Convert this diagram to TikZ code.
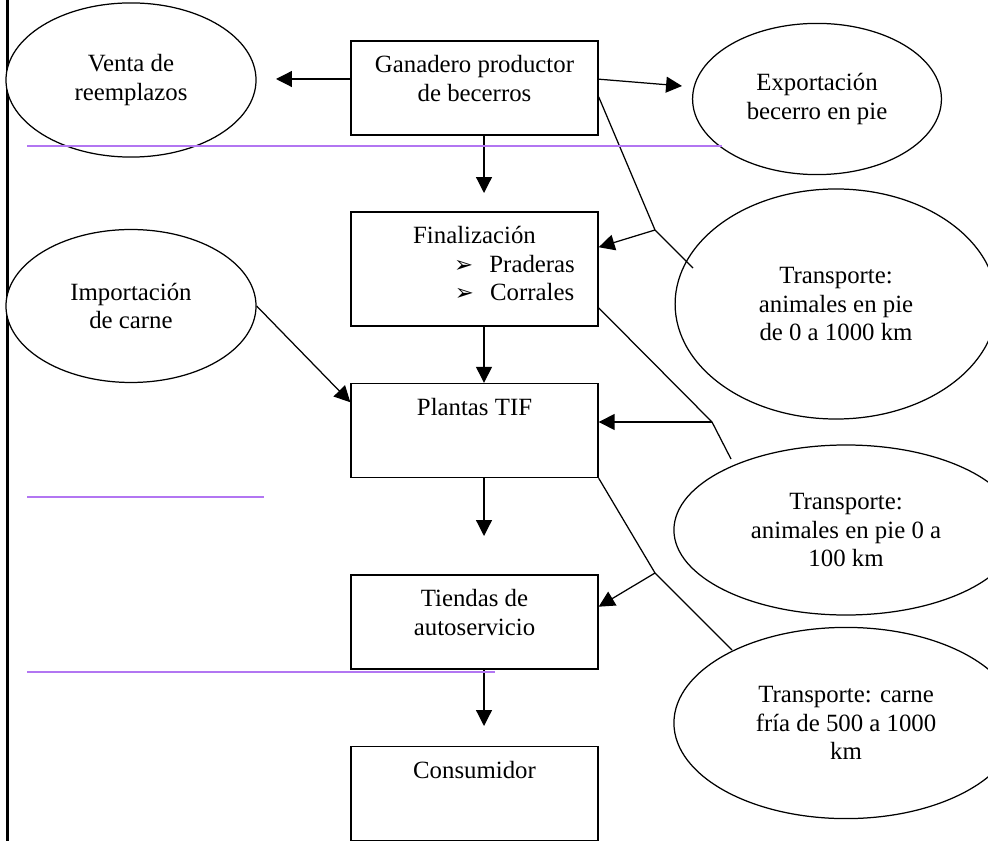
\documentclass[tikz,border=0pt]{standalone}
\usepackage{fontspec}
\setmainfont{Liberation Serif}
\newfontfamily\dejavu{DejaVu Sans}
\usetikzlibrary{shapes.geometric, arrows.meta}
\definecolor{lila}{RGB}{178,118,242}
\newcommand{\cajatxt}[2][1.6cm]{\parbox[c][#1][t]{4.2cm}{\centering\rule{0pt}{0.54cm}#2}}
\newcommand{\vineta}[1]{\hspace*{1.36cm}\makebox[0.6cm][l]{{\dejavu\fontsize{11}{11}\selectfont ➢}}#1\hfill}

\begin{document}
\begin{tikzpicture}[x=0.017cm, y=-0.017cm, line width=0.6pt,
	font=\fontsize{12}{13.8}\selectfont,
	caja/.style={draw, rectangle, inner sep=0pt},
	elipse/.style={draw, ellipse, fill=white, align=center, inner sep=0pt},
	flecha/.style={-{Triangle[length=7.7pt, width=7.7pt]}},
	purpura/.style={draw=lila, line width=0.8pt}]
	\useasboundingbox (0,0) rectangle (988,841);
	%left margin
	\draw[line width=1pt] (7.5,0) -- (7.5,841);
	
	%boxes of the chain
	\node (gan) at (474.5, 88) [caja]{\cajatxt{Ganadero productor\\de becerros}};
	\node (fin) at (474.5, 269) [caja]{\cajatxt[1.94cm]{Finalización\\\vineta{Praderas}\\\vineta{Corrales}}};
	\node (tif) at (474.5, 430.5) [caja]{\cajatxt{Plantas TIF}};
	\node (tie) at (474.5, 622) [caja]{\cajatxt{Tiendas de\\autoservicio}};
	\node (con) at (474.5, 793.5) [caja]{\cajatxt{Consumidor}};
	
	%ellipses
	\node (venta) at (131, 80) [elipse, minimum width=4.25cm, minimum height=2.62cm]{Venta de\\reemplazos};
	\node (imp) at (131, 306) [elipse, minimum width=4.25cm, minimum height=2.6cm]{Importación\\de carne};
	\node (expo) at (817, 99) [elipse, minimum width=4.23cm, minimum height=2.57cm]{Exportación\\becerro en pie};
	\node (tr1) at (836, 304) [elipse, minimum width=5.47cm, minimum height=3.91cm]{Transporte:\\animales en pie\\de 0 a 1000 km};
	\node (tr2) at (846, 530) [elipse, minimum width=5.85cm, minimum height=2.89cm]{Transporte:\\animales en pie 0 a\\100 km};
	\node (tr3) at (846, 723) [elipse, minimum width=5.85cm, minimum height=3.25cm]{Transporte: carne\\fría de 500 a 1000\\km};
	
	%free ends and kinks
	\coordinate (pv) at (276, 79);
	\coordinate (pe) at (682, 86);
	\coordinate (p1) at (484, 193);
	\coordinate (p3) at (484, 536);
	\coordinate (p4) at (484, 726);
	\coordinate (k1) at (655, 230);
	\coordinate (e1) at (693, 268);
	\coordinate (k2) at (712, 422);
	\coordinate (e2) at (731, 459);
	\coordinate (k3) at (655, 573);
	\coordinate (e3) at (732, 650);
	
	%arrows
	\draw[flecha] (gan.west |- pv) -- (pv);
	\draw[flecha] ([yshift=0.15cm]gan.east) -- (pe);
	\draw[flecha] (gan.south -| p1) -- (p1);
	\draw[flecha] (fin.south -| p1) -- (tif.north -| p1);
	\draw[flecha] (tif.south -| p3) -- (p3);
	\draw[flecha] (tie.south -| p4) -- (p4);
	\draw[flecha] (imp.east) -- ([yshift=0.48cm]tif.west);
	
	%transport lines
	\draw ([yshift=-0.15cm]gan.east) -- (k1) -- (e1);
	\draw[flecha] (k1) -- ([yshift=0.37cm]fin.east);
	\draw ([yshift=-0.66cm]fin.east) -- (k2) -- (e2);
	\draw[flecha] (k2) -- (tif.east |- k2);
	\draw (tif.south east) -- (k3) -- (e3);
	\draw[flecha] (k3) -- ([yshift=0.26cm]tie.east);
	
	%purple rules
	\draw[purpura] (27, 146) -- (722, 146);
	\draw[purpura] (27, 497) -- (264, 497);
	\draw[purpura] (27, 672) -- (495, 672);
\end{tikzpicture}
\end{document}
